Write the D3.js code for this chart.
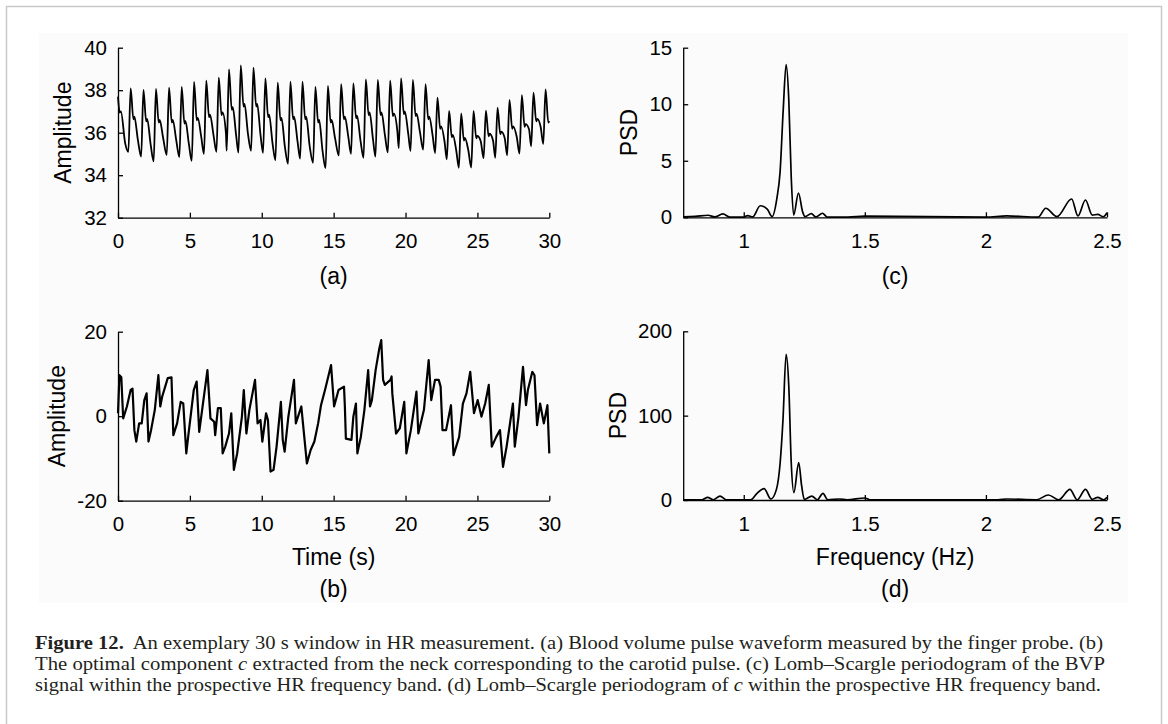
<!DOCTYPE html>
<html>
<head>
<meta charset="utf-8">
<script src="https://cdn.jsdelivr.net/npm/d3@7"></script>
<style>
  body { margin: 0; background: #fff; }
  svg { display: block; }
  .axis path, .axis line { stroke: #000; stroke-width: 1.3; }
  .axis text { font-family: "Liberation Sans", Arial, sans-serif; font-size: 20.5px; fill: #000; }
  .label { font-family: "Liberation Sans", Arial, sans-serif; font-size: 23px; fill: #000; }
  .caption { font-family: "Liberation Serif", serif; font-size: 18.5px; fill: #231f20; }
</style>
</head>
<body>
<div id="wrapper"></div>
<script>

// (a) BVP waveform, one entry per beat (peak time in s, values in amplitude units)
const beatPeakTime = [0.88, 1.77, 2.64, 3.55, 4.43, 5.29, 6.14, 7.01, 7.72, 8.54,
    9.42, 10.25, 11.11, 11.99, 12.83, 13.73, 14.6, 15.52, 16.37, 17.24,
    18.07, 18.93, 19.69, 20.51, 21.39, 22.22, 23.03, 23.87, 24.73, 25.59,
    26.4, 27.23, 28.09, 28.9, 29.74]
const beatPeak = [38.09, 38.01, 38.06, 38.12, 38.16, 38.39, 38.45, 38.59, 38.98, 39.17,
    39.06, 38.56, 38.35, 38.4, 38.4, 38.16, 38.2, 38.28, 38.32, 38.51,
    38.48, 38.45, 38.56, 38.48, 38.28, 37.65, 37.02, 36.91, 37.02, 37.04,
    37.18, 37.54, 37.77, 37.88, 38.04]
const beatFoot = [35.1, 34.87, 34.65, 34.95, 34.85, 34.67, 35.0, 35.1, 35.15, 35.06,
    35.15, 35.05, 34.7, 34.53, 34.78, 34.58, 34.33, 34.93, 35.0, 34.82,
    34.87, 35.07, 35.28, 35.14, 35.2, 35.04, 34.75, 34.35, 34.36, 34.8,
    34.82, 34.94, 35.02, 35.36, 35.47]
const beatNotch = [36.75, 36.65, 36.6, 36.6, 36.55, 36.7, 36.85, 36.95, 37.2, 37.35,
    37.35, 36.85, 36.7, 36.75, 36.75, 36.6, 36.6, 36.75, 36.8, 36.95,
    36.95, 36.9, 37.0, 36.9, 36.75, 36.3, 35.9, 35.75, 35.85, 35.95,
    36.05, 36.3, 36.4, 36.65, 36.6]
const beatLate = [35.67, 35.45, 35.75, 35.65, 35.47, 35.8, 35.9, 35.95, 35.86, 35.95,
    35.85, 35.5, 35.33, 35.58, 35.38, 35.13, 35.73, 35.8, 35.62, 35.67,
    35.87, 36.08, 35.94, 36.0, 35.84, 35.55, 35.15, 35.16, 35.6, 35.62,
    35.74, 35.82, 36.16, 36.27, 36.3]
const bvpStart = [[0, 37.7], [0.12, 36.95], [0.2, 37.0], [0.5, 35.5]]
const bvpEnd = [30, 36.55]

// (b) optimal component c
const componentPoints = [
    [0, 0.7], [0.1, 9.7], [0.23, 9.2], [0.36, -0.5], [0.62, 2.3], [0.88, 6.2], [1.01, 6.5], [1.14, -3.3],
    [1.27, -6.0], [1.47, -1.7], [1.65, -1.7], [1.83, 3.8], [1.99, 5.4], [2.12, -6.0], [2.3, -3.3], [2.56, 1.5],
    [2.81, 9.7], [2.94, 2.3], [3.07, 4.6], [3.46, 9.0], [3.72, 9.2], [3.85, -4.5], [4.11, -1.7], [4.36, 3.4],
    [4.54, 3.0], [4.75, -8.8], [4.88, -4.9], [5.27, 6.2], [5.47, 8.2], [5.65, -3.7], [5.91, 3.0], [6.22, 10.9],
    [6.43, -0.5], [6.69, -1.3], [6.76, -4.5], [6.95, 1.9], [7.15, 1.9], [7.28, -8.8], [7.46, -7.2], [7.72, -4.1],
    [7.88, 0.7], [8.06, -12.7], [8.29, -8.8], [8.62, -0.1], [8.75, 6.2], [8.93, -4.1], [9.14, 1.5], [9.53, 8.6],
    [9.71, -1.7], [9.91, -0.9], [10.04, -6.0], [10.3, 0.7], [10.43, -0.9], [10.61, -13.1], [10.82, -12.7], [11.03, -7.2],
    [11.33, 3.4], [11.46, -5.6], [11.59, -8.4], [11.85, -0.1], [12.24, 8.6], [12.37, -1.7], [12.75, 2.3], [13.14, -11.2],
    [13.4, -8.0], [13.66, -6.0], [13.92, -1.7], [14.12, 2.6], [14.43, 6.6], [14.82, 12.1], [15.03, 2.3], [15.34, 6.2],
    [15.72, 7.0], [15.78, 2.3], [15.85, -5.3], [16.24, -5.6], [16.37, -0.1], [16.55, 3.0], [16.65, -8.8], [16.89, -4.9],
    [17.14, 1.5], [17.4, 10.9], [17.53, 2.3], [17.66, 3.8], [17.92, 10.9], [18.18, 16.1], [18.31, 18.0], [18.44, 8.6],
    [18.56, 7.4], [18.95, 8.6], [19.03, 9.4], [19.08, 5.4], [19.34, -4.1], [19.6, -2.9], [19.91, 3.4], [20.06, -8.8],
    [20.37, -3.3], [20.76, 5.8], [20.89, -4.1], [21.28, 1.5], [21.61, 13.3], [21.79, 3.8], [22.05, 8.6], [22.31, 8.6],
    [22.44, 7.0], [22.57, -3.3], [22.82, -3.3], [23.16, 2.6], [23.34, -9.2], [23.73, -4.9], [23.99, 3.0], [24.24, 5.4],
    [24.5, 10.5], [24.76, 0.7], [25.02, 3.8], [25.28, -0.1], [25.54, 3.0], [25.79, 7.4], [26.0, -7.2], [26.31, -4.9],
    [26.57, -3.3], [26.78, -12.0], [27.03, -7.2], [27.47, 3.0], [27.6, -7.2], [27.86, -0.1], [28.17, 11.7], [28.38, 2.6],
    [28.51, 6.2], [28.82, 10.5], [28.97, 9.7], [29.15, -2.1], [29.36, 3.0], [29.62, -1.7], [29.87, 2.6], [30, -8.8]
]

// (c) Lomb-Scargle periodogram of the BVP, [Hz, PSD]
const psdBvp = [
    [0.75, 0.05], [0.8, 0.08], [0.853, 0.18], [0.88, 0.03], [0.914, 0.3], [0.942, 0.02], [1.0, 0.02], [1.016, 0.15],
    [1.037, 0.03], [1.068, 1.02], [1.097, 0.72], [1.117, 0.06], [1.137, 1.7], [1.15, 4.0], [1.163, 9.5], [1.175, 13.5],
    [1.186, 10.4], [1.196, 3.6], [1.206, 0.2], [1.226, 2.15], [1.243, 0.5], [1.253, 0.06], [1.279, 0.32], [1.298, 0.03],
    [1.325, 0.36], [1.345, 0.02], [1.43, 0.02], [1.5, 0.1], [2.0, 0.02], [2.086, 0.12], [2.216, 0.02], [2.247, 0.8],
    [2.293, 0.06], [2.354, 1.62], [2.38, 0.12], [2.411, 1.53], [2.439, 0.2], [2.462, 0.25], [2.485, 0.05], [2.5, 0.4]
]

// (d) Lomb-Scargle periodogram of c, [Hz, PSD]
const psdComponent = [
    [0.75, 0.2], [0.828, 0.3], [0.851, 3.2], [0.874, 0.3], [0.902, 4.7], [0.928, 0.3], [1.028, 0.3], [1.055, 7.9],
    [1.084, 13.4], [1.112, 1.2], [1.135, 12.6], [1.15, 43], [1.162, 95], [1.175, 172.7], [1.186, 135], [1.196, 45],
    [1.207, 8.7], [1.227, 44.3], [1.239, 17], [1.25, 0.8], [1.281, 4.7], [1.304, 0.3], [1.327, 7.9], [1.347, 0.3],
    [1.396, 1.2], [1.426, 0.3], [1.5, 2.4], [1.52, 0.3], [2.05, 0.3], [2.086, 1.2], [2.209, 0.3], [2.258, 5.9],
    [2.301, 0.3], [2.347, 12.6], [2.377, 0.3], [2.411, 12.6], [2.439, 0.8], [2.462, 3.2], [2.485, 0.3], [2.5, 3.2]
]

// ticks
const timeTicks = [0, 5, 10, 15, 20, 25, 30]
const freqTicks = [1, 1.5, 2, 2.5]
const bvpTicks = [32, 34, 36, 38, 40]
const componentTicks = [-20, 0, 20]
const psdBvpTicks = [0, 5, 10, 15]
const psdComponentTicks = [0, 100, 200]

const captionLines = [
    [{t: "Figure 12.", b: true}, {t: "An exemplary 30 s window in HR measurement. (a) Blood volume pulse waveform measured by the finger probe. (b)", dx: 8}],
    [{t: "The optimal component "}, {t: "c", i: true}, {t: " extracted from the neck corresponding to the carotid pulse. (c) Lomb–Scargle periodogram of the BVP"}],
    [{t: "signal within the prospective HR frequency band. (d) Lomb–Scargle periodogram of "}, {t: "c", i: true}, {t: " within the prospective HR frequency band."}]
]

// build the BVP trace from the beats: foot, peak, dicrotic notch, notch bump, late decay
const beatShape = [-0.16, 0, 0.19, 0.26, 0.5]
const bvpPoints = bvpStart.slice()
beatPeakTime.forEach((tp, i) => {
    const pts = [
        [tp + beatShape[0], beatFoot[i]],
        [tp + beatShape[1], beatPeak[i]],
        [tp + beatShape[2], beatNotch[i] - 0.12],
        [tp + beatShape[3], beatNotch[i]],
        [tp + beatShape[4], beatLate[i]],
    ]
    pts.filter(p => p[0] < bvpEnd[0]).forEach(p => bvpPoints.push(p))
})
bvpPoints.push(bvpEnd)

const width = 1168
const height = 724

const svg = d3.select("#wrapper")
    .append("svg")
    .attr("width", width)
    .attr("height", height)

// page frame and plot background
svg.append("rect")
    .attr("x", 6.5).attr("y", 6.5)
    .attr("width", 1155).attr("height", 800)
    .attr("fill", "#fff")
    .attr("stroke", "#c9c9c9")
    .attr("stroke-width", 1.5)

svg.append("rect")
    .attr("x", 39).attr("y", 33)
    .attr("width", 1089).attr("height", 570)
    .attr("fill", "#fbfbfb")

const panels = [
    {
        data: bvpPoints, xDomain: [0, 30], xRange: [118, 549.3], yDomain: [32, 40], yRange: [217.7, 47.7],
        xTicks: timeTicks, yTicks: bvpTicks, curve: d3.curveMonotoneX, lineWidth: 1.8,
        yLabel: "Amplitude", yLabelX: 63, tag: "(a)", tagY: 276
    },
    {
        data: componentPoints, xDomain: [0, 30], xRange: [118, 549.3], yDomain: [-20, 20], yRange: [500.7, 331.7],
        xTicks: timeTicks, yTicks: componentTicks, curve: d3.curveLinear, lineWidth: 2.2,
        yLabel: "Amplitude", yLabelX: 57, xLabel: "Time (s)", xLabelY: 557, tag: "(b)", tagY: 589
    },
    {
        data: psdBvp, xDomain: [0.75, 2.5], xRange: [683.2, 1107], yDomain: [0, 15], yRange: [217.3, 47.7],
        xTicks: freqTicks, yTicks: psdBvpTicks, curve: d3.curveMonotoneX, lineWidth: 1.7,
        yLabel: "PSD", yLabelX: 629, tag: "(c)", tagY: 276
    },
    {
        data: psdComponent, xDomain: [0.75, 2.5], xRange: [683.2, 1107], yDomain: [0, 200], yRange: [500, 331.3],
        xTicks: freqTicks, yTicks: psdComponentTicks, curve: d3.curveMonotoneX, lineWidth: 1.7,
        yLabel: "PSD", yLabelX: 617.5, xLabel: "Frequency (Hz)", xLabelY: 557, tag: "(d)", tagY: 589
    },
]

panels.forEach(p => {
    const xScale = d3.scaleLinear().domain(p.xDomain).range(p.xRange)
    const yScale = d3.scaleLinear().domain(p.yDomain).range(p.yRange)

    const line = d3.line()
        .x(d => xScale(d[0]))
        .y(d => yScale(d[1]))
        .curve(p.curve)

    svg.append("path")
        .datum(p.data)
        .attr("d", line)
        .attr("fill", "none")
        .attr("stroke", "#000")
        .attr("stroke-width", p.lineWidth)
        .attr("stroke-linejoin", "round")

    svg.append("g")
        .attr("class", "axis")
        .attr("transform", `translate(0,${p.yRange[0]})`)
        .call(d3.axisBottom(xScale)
            .tickValues(p.xTicks)
            .tickFormat(d => String(d))
            .tickSizeInner(-5)
            .tickSizeOuter(0)
            .tickPadding(16))

    svg.append("g")
        .attr("class", "axis")
        .attr("transform", `translate(${p.xRange[0]},0)`)
        .call(d3.axisLeft(yScale)
            .tickValues(p.yTicks)
            .tickFormat(d => String(d))
            .tickSizeInner(-5)
            .tickSizeOuter(0)
            .tickPadding(11))

    const midX = (p.xRange[0] + p.xRange[1]) / 2
    const midY = (p.yRange[0] + p.yRange[1]) / 2

    svg.append("text")
        .attr("class", "label")
        .attr("transform", `translate(${p.yLabelX},${midY}) rotate(-90)`)
        .attr("text-anchor", "middle")
        .attr("dy", "0.36em")
        .text(p.yLabel)

    if (p.xLabel) {
        svg.append("text")
            .attr("class", "label")
            .attr("x", midX)
            .attr("y", p.xLabelY)
            .attr("text-anchor", "middle")
            .attr("dy", "0.36em")
            .text(p.xLabel)
    }

    svg.append("text")
        .attr("class", "label")
        .attr("x", midX)
        .attr("y", p.tagY)
        .attr("text-anchor", "middle")
        .attr("dy", "0.36em")
        .text(p.tag)
})

// caption
const captionBaselines = [649, 670, 691]
const captionWidths = [1068, 1070, 1066]
captionLines.forEach((parts, i) => {
    const text = svg.append("text")
        .attr("class", "caption")
        .attr("x", 35)
        .attr("y", captionBaselines[i])
        .attr("textLength", captionWidths[i])
        .attr("lengthAdjust", "spacingAndGlyphs")
    parts.forEach(part => {
        text.append("tspan")
            .attr("font-weight", part.b ? "bold" : null)
            .attr("font-style", part.i ? "italic" : null)
            .attr("dx", part.dx || null)
            .text(part.t)
    })
})

</script>
</body>
</html>
